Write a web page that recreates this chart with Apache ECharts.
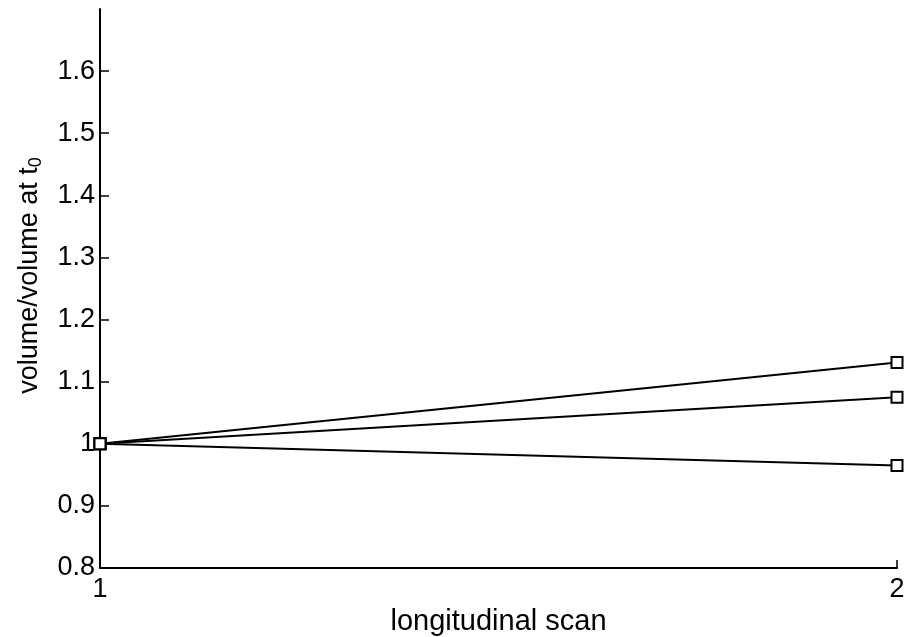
<!DOCTYPE html>
<html>
<head>
<meta charset="utf-8">
<script src="https://cdn.jsdelivr.net/npm/echarts@6/dist/echarts.min.js"></script>
<style>
  html, body { margin: 0; padding: 0; background: #fff; }
  #chart { width: 917px; height: 637px; }
</style>
</head>
<body>
<div id="chart"></div>
<script>
// scan index on the x axis
const scans = [1, 2];
// volume relative to the volume at t0, one array per subject
const subjectA = [1.0, 1.131];
const subjectB = [1.0, 1.075];
const subjectC = [1.0, 0.965];
// y tick labels actually printed (axis runs to 1.7 with no label there)
const yTicks = [0.8, 0.9, 1.0, 1.1, 1.2, 1.3, 1.4, 1.5, 1.6];

const font = "'Liberation Sans', Arial, sans-serif";

function toPairs(ys) {
  return scans.map((x, i) => [x, ys[i]]);
}

function makeSeries(ys) {
  return {
    type: "line",
    data: toPairs(ys),
    symbol: "rect",
    symbolSize: 11,
    showAllSymbol: true,
    lineStyle: { color: "#000", width: 2 },
    itemStyle: { color: "#fff", borderColor: "#000", borderWidth: 2 },
    animation: false,
    z: 3
  };
}

const chart = echarts.init(document.getElementById("chart"));
chart.setOption({
  backgroundColor: "#fff",
  animation: false,
  grid: { left: 100, right: 20, top: 9, bottom: 69, containLabel: false, outerBoundsMode: "none" },
  xAxis: {
    type: "value",
    min: 1,
    max: 2,
    interval: 1,
    name: "longitudinal scan",
    nameLocation: "middle",
    nameGap: 36,
    nameTextStyle: { color: "#000", fontSize: 29, fontFamily: font },
    axisLine: { show: true, lineStyle: { color: "#000", width: 2 } },
    axisTick: { show: true, inside: true, length: 8, lineStyle: { color: "#000", width: 1.5 } },
    axisLabel: { color: "#000", fontSize: 27, fontFamily: font, margin: 8 },
    splitLine: { show: false }
  },
  yAxis: {
    type: "value",
    min: 0.8,
    max: 1.7,
    interval: 0.1,
    name: "{n|volume/volume at t}{s|0}",
    nameLocation: "middle",
    nameGap: 55,
    nameRotate: 90,
    nameTextStyle: {
      padding: [0, 0, 0, 26],
      rich: {
        n: { color: "#000", fontSize: 27, fontFamily: font },
        s: { color: "#000", fontSize: 18, fontFamily: font, verticalAlign: "bottom", padding: [12, 0, 0, 0] }
      }
    },
    axisLine: { show: true, lineStyle: { color: "#000", width: 2 } },
    axisTick: {
      show: true, inside: true, length: 9,
      customValues: yTicks,
      lineStyle: { color: "#000", width: 1.5 }
    },
    axisLabel: {
      color: "#000", fontSize: 27, fontFamily: font, margin: 5,
      customValues: yTicks,
      formatter: v => {
        const r = Math.round(v * 10) / 10;
        return r === 1 ? "1" : r.toFixed(1);
      }
    },
    splitLine: { show: false }
  },
  series: [makeSeries(subjectA), makeSeries(subjectB), makeSeries(subjectC)]
});
</script>
</body>
</html>
